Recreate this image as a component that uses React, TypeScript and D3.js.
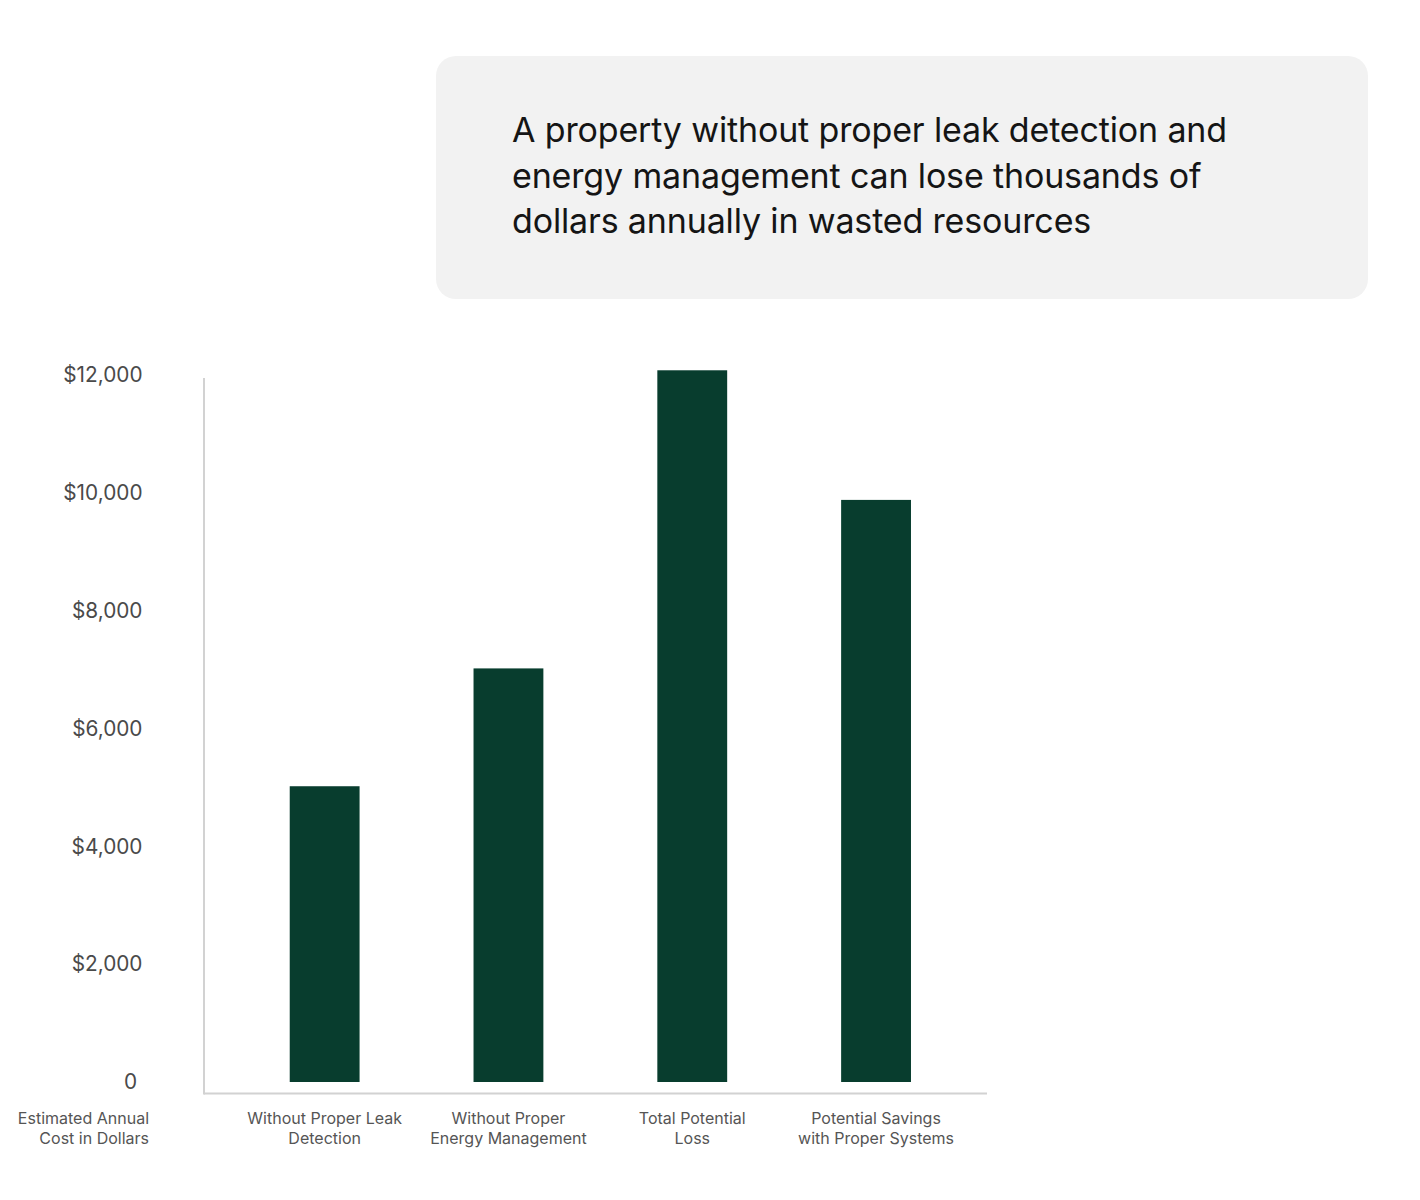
import React from "react";
import * as d3 from "d3";

const categories: string[][] = [
  ["Without Proper Leak", "Detection"],
  ["Without Proper", "Energy Management"],
  ["Total Potential", "Loss"],
  ["Potential Savings", "with Proper Systems"],
];
const costValues: number[] = [5020, 7020, 12080, 9880];
const tickValues: number[] = [0, 2000, 4000, 6000, 8000, 10000, 12000];
const axisTitle: string[] = ["Estimated Annual", "Cost in Dollars"];
const titleLines: string[] = [
  "A property without proper leak detection and",
  "energy management can lose thousands of",
  "dollars annually in wasted resources",
];

const W = 1420;
const H = 1190;
const plot = { left: 204, right: 987, top: 375, bottom: 1082, axisY: 1093.5 };
const BAR = "#083d2e";
const FONT = "Inter, 'Noto Sans', sans-serif";

export default function App() {
  const keys = categories.map((c) => c.join(" "));
  const x = d3
    .scaleBand<string>()
    .domain(keys)
    .range([plot.left, plot.right])
    .paddingInner(0.62)
    .paddingOuter(0.44)
    .align(0.53);
  const y = d3.scaleLinear().domain([0, 12000]).range([plot.bottom, plot.top]);
  const fmt = (v: number) => (v === 0 ? "0" : "$" + d3.format(",")(v));

  return (
    <svg width={W} height={H} style={{ display: "block", margin: "-8px 0 0 -8px" }}>
      <rect x={436} y={56} width={932} height={243} rx={20} ry={20} fill="#f2f2f2" />
      {titleLines.map((t, i) => (
        <text
          key={i}
          x={512}
          y={142 + i * 45.5}
          fontFamily={FONT}
          fontSize={34}
          letterSpacing={-0.15}
          fill="#151515"
        >
          {t}
        </text>
      ))}

      {/* axes lines */}
      <line x1={plot.left} x2={plot.left} y1={378} y2={plot.axisY + 1} stroke="#d2d2d2" strokeWidth={2} />
      <line x1={plot.left} x2={plot.right} y1={plot.axisY} y2={plot.axisY} stroke="#d2d2d2" strokeWidth={2} />

      {/* y ticks */}
      {tickValues.map((v) => (
        <text
          key={v}
          x={v === 0 ? 137 : 142.5}
          y={y(v)}
          dy="0.35em"
          textAnchor="end"
          fontFamily={FONT}
          fontSize={20.8}
          fill="#4a4a4a"
        >
          {fmt(v)}
        </text>
      ))}

      {/* bars */}
      {costValues.map((v, i) => (
        <rect
          key={i}
          x={x(keys[i])!}
          y={y(v)}
          width={x.bandwidth()}
          height={y(0) - y(v)}
          fill={BAR}
        />
      ))}

      {/* category labels */}
      {categories.map((lines, i) => (
        <text
          key={i}
          x={x(keys[i])! + x.bandwidth() / 2}
          y={1124}
          textAnchor="middle"
          fontFamily={FONT}
          fontSize={16}
          fill="#555"
        >
          {lines.map((l, j) => (
            <tspan key={j} x={x(keys[i])! + x.bandwidth() / 2} dy={j === 0 ? 0 : 20}>
              {l}
            </tspan>
          ))}
        </text>
      ))}

      {/* axis title */}
      <text x={149} y={1124} textAnchor="end" fontFamily={FONT} fontSize={16} fill="#555">
        {axisTitle.map((l, j) => (
          <tspan key={j} x={149} dy={j === 0 ? 0 : 20}>
            {l}
          </tspan>
        ))}
      </text>
    </svg>
  );
}
